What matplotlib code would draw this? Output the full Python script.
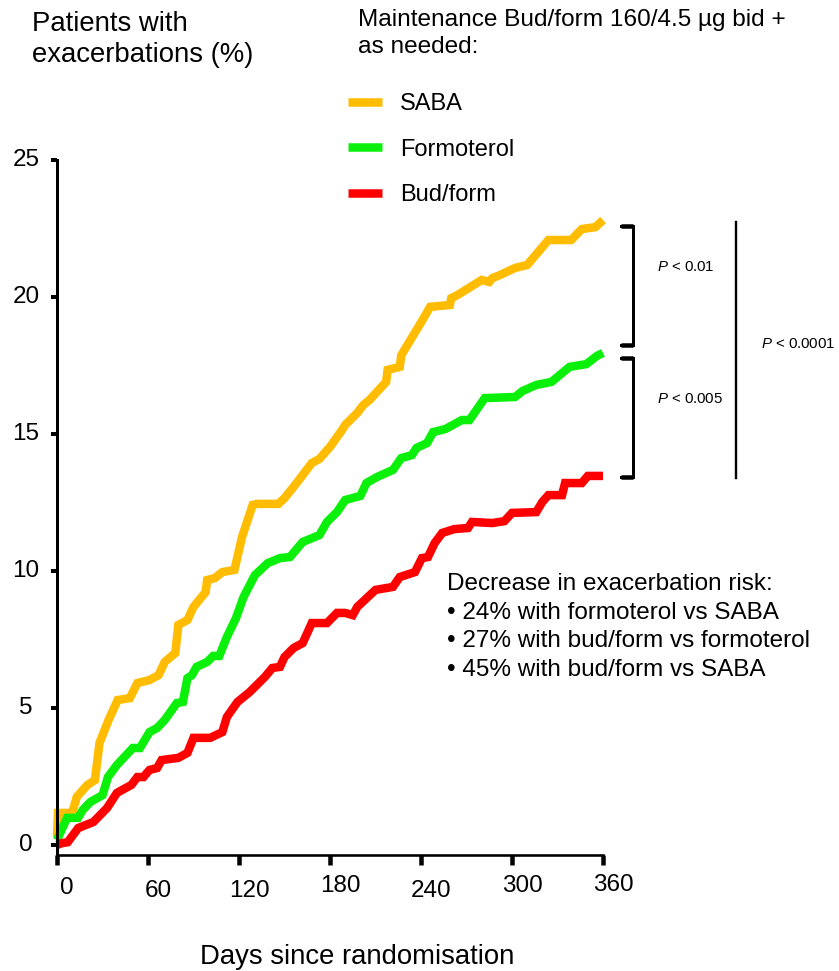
import matplotlib
matplotlib.use("Agg")
import matplotlib.pyplot as plt
from matplotlib.transforms import ScaledTranslation

plt.rcParams["font.family"] = ["Liberation Sans", "DejaVu Sans"]
plt.rcParams["mathtext.fontset"] = "custom"
plt.rcParams["mathtext.rm"] = "Liberation Sans"
plt.rcParams["mathtext.it"] = "Liberation Sans:italic"

# Cumulative share of patients with an exacerbation (%) by day since randomisation
days_saba = [0, 0.7, 10, 13, 20, 25, 28, 34, 40, 48, 53, 61, 67, 71, 78, 80, 86, 90, 98, 99,
             104, 109, 117, 122, 129, 132, 146, 150, 156, 161, 168, 173, 180, 188, 190, 198,
             202, 206, 217, 218, 226, 227, 235, 241, 246, 259, 260, 264, 280, 285, 287, 292,
             302, 310, 324, 339, 346, 355, 360]
saba = [0.3, 1.17, 1.17, 1.75, 2.19, 2.37, 3.72, 4.56, 5.29, 5.36, 5.91, 6.02, 6.20, 6.68,
        7.01, 8.03, 8.21, 8.69, 9.23, 9.67, 9.74, 9.96, 10.04, 11.24, 12.41, 12.45, 12.45,
        12.66, 13.07, 13.43, 13.94, 14.09, 14.53, 15.15, 15.33, 15.77, 16.06, 16.24, 16.90,
        17.34, 17.45, 17.88, 18.61, 19.16, 19.64, 19.71, 19.96, 20.07, 20.62, 20.55, 20.69,
        20.80, 21.06, 21.17, 22.08, 22.08, 22.48, 22.55, 22.81]

days_form = [0, 6.6, 13.8, 17, 22, 30, 33.6, 39.5, 50, 54.7, 61, 66, 71, 79, 83, 86, 89, 92,
             99, 103, 107, 112, 118, 123, 130.5, 139, 147, 153.6, 162, 173, 178, 184.6, 190,
             200, 204, 211, 221.5, 227, 234, 237, 244, 248, 256, 267, 272, 282, 302, 307, 316,
             326, 338, 349, 356, 360]
formoterol = [0.18, 0.99, 0.99, 1.28, 1.57, 1.82, 2.48, 2.92, 3.54, 3.54, 4.12, 4.27, 4.56,
              5.18, 5.22, 6.09, 6.20, 6.50, 6.68, 6.90, 6.90, 7.59, 8.28, 9.05, 9.85, 10.29,
              10.47, 10.51, 11.06, 11.31, 11.79, 12.15, 12.59, 12.74, 13.21, 13.43, 13.69,
              14.12, 14.23, 14.49, 14.67, 15.07, 15.18, 15.51, 15.51, 16.31, 16.35, 16.57,
              16.79, 16.90, 17.45, 17.55, 17.85, 17.96]

days_bud = [0, 3.3, 7, 12, 14, 24, 33, 39.5, 43, 49, 53, 57, 61, 66, 69, 80, 86, 90, 101, 109,
            112, 119, 127, 137, 142, 147, 150, 156, 162, 168, 178, 184.6, 190, 195, 198, 210,
            221.5, 226, 236, 240.6, 244.6, 249, 254, 262, 271, 273.6, 287, 295, 300, 316, 320,
            324, 333, 335, 346, 350, 360]
budform = [0, 0.07, 0.1, 0.47, 0.62, 0.84, 1.35, 1.90, 2.01, 2.19, 2.48, 2.48, 2.74, 2.81,
           3.10, 3.18, 3.36, 3.91, 3.91, 4.12, 4.67, 5.22, 5.58, 6.13, 6.46, 6.50, 6.86, 7.19,
           7.37, 8.10, 8.10, 8.47, 8.47, 8.39, 8.69, 9.31, 9.42, 9.78, 9.96, 10.47, 10.51,
           11.02, 11.39, 11.53, 11.57, 11.79, 11.75, 11.82, 12.12, 12.15, 12.52, 12.77, 12.77,
           13.21, 13.21, 13.47, 13.47]

series_labels = ["SABA", "Formoterol", "Bud/form"]
series_colors = ["#FFBC00", "#0BF00B", "#FF0000"]

x_ticks = [0, 60, 120, 180, 240, 300, 360]
y_ticks = [0, 5, 10, 15, 20, 25]

# Pairwise comparison brackets: (upper %, lower %, label)
pair_brackets = [(22.6, 18.25, "$P$ < 0.01"), (17.77, 13.43, "$P$ < 0.005")]
overall_span = (22.75, 13.4, "$P$ < 0.0001")

risk_lines = ["Decrease in exacerbation risk:",
              "\u2022 24% with formoterol vs SABA",
              "\u2022 27% with bud/form vs formoterol",
              "\u2022 45% with bud/form vs SABA"]

W, H = 839, 971
fig = plt.figure(figsize=(W / 100, H / 100), dpi=100)


def fx(x):
    return x / W


def fy(y):
    return 1 - y / H


PX = 0.72  # points per pixel at 100 dpi

ax = fig.add_axes([fx(57), fy(855), (603 - 57) / W, (855 - 160) / H])
ax.set_xlim(0, 360)
ax.set_ylim(-0.365, 25)

lines = []
for d, v, c, lab in zip([days_saba, days_form, days_bud],
                        [saba, formoterol, budform], series_colors, series_labels):
    ln, = ax.plot(d, v, color=c, lw=8.5 * PX, solid_joinstyle="miter",
                  solid_capstyle="butt", label=lab, clip_on=False)
    lines.append(ln)

for side in ["top", "right"]:
    ax.spines[side].set_visible(False)
ax.spines["left"].set_linewidth(3 * PX)
ax.spines["bottom"].set_linewidth(2.6 * PX)

ax.set_yticks(y_ticks)
ax.set_yticklabels([str(t) for t in y_ticks], fontsize=17.5, ha="center")
ax.tick_params(axis="y", direction="out", length=6 * PX, width=4 * PX, pad=25 * PX)
for lab in ax.get_yticklabels():
    lab.set_transform(lab.get_transform() + ScaledTranslation(0, 2 / 100, fig.dpi_scale_trans))

ax.set_xticks(x_ticks)
ax.tick_params(axis="x", direction="out", length=10 * PX, width=4.5 * PX, labelbottom=False)
label_dy = [33, 36, 36, 31, 36, 31, 30]
for t, dy in zip(x_ticks, label_dy):
    ax.annotate(str(t), xy=(t, 0), xycoords=("data", "axes fraction"),
                xytext=(10 * PX, -dy * PX), textcoords="offset points",
                ha="center", va="center", fontsize=17.5)

# Comparison brackets to the right of the curves
x_stub0, x_stub1, x_span = 371.9, 379.8, 447.7
for top, bot, txt in pair_brackets:
    ax.plot([x_stub0, x_stub1, x_stub1, x_stub0], [top, top, bot, bot], color="black",
            lw=3 * PX, solid_joinstyle="miter", clip_on=False)
    ax.plot([x_stub0, x_stub1], [top, top], color="black", lw=4.5 * PX, clip_on=False,
            solid_capstyle="butt")
    ax.plot([x_stub0, x_stub1], [bot, bot], color="black", lw=4.5 * PX, clip_on=False,
            solid_capstyle="butt")
    ax.text(395.5, top - 1.5, txt, fontsize=10.8, ha="left", va="center")
ax.plot([x_span, x_span], overall_span[:2], color="black", lw=2.4 * PX, clip_on=False)
ax.text(464.5, 18.3, overall_span[2], fontsize=10.8, ha="left", va="center")

ax.legend(handles=lines, labels=series_labels, loc="upper left",
          bbox_to_anchor=(fx(348), fy(93)), bbox_transform=fig.transFigure,
          frameon=False, fontsize=17, handlelength=1.44, handletextpad=0.76,
          labelspacing=1.0, borderpad=0, borderaxespad=0)

fig.text(fx(32), fy(31), "Patients with", fontsize=19.8, va="baseline")
fig.text(fx(32), fy(62), "exacerbations (%)", fontsize=19.8, va="baseline")
fig.text(fx(358), fy(26), "Maintenance Bud/form 160/4.5 \u00b5g bid +", fontsize=17.6,
         va="baseline")
fig.text(fx(358), fy(53), "as needed:", fontsize=17.6, va="baseline")

for i, line in enumerate(risk_lines):
    fig.text(fx(447), fy(590 + 28.7 * i), line, fontsize=17.5, va="baseline")

fig.text(fx(357), fy(964), "Days since randomisation", fontsize=19.8, ha="center",
         va="baseline")

fig.savefig("out.png", dpi=100)
